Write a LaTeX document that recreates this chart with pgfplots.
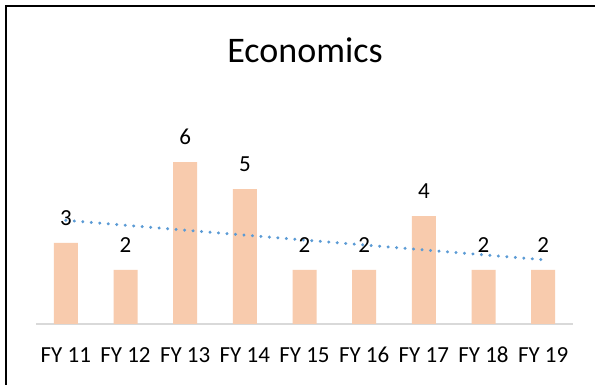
\documentclass[border=0pt]{standalone}
\usepackage{pgfplots}
\pgfplotsset{compat=1.18}
\usepackage{fontspec}
\setmainfont{Carlito}

\definecolor{barfill}{HTML}{F8CBAD}
\definecolor{trendblue}{HTML}{5B9BD5}
\definecolor{axisgray}{HTML}{D9D9D9}

\newcommand\lf{\fontsize{23}{27}\selectfont}

\begin{document}
\begin{tikzpicture}[x=1pt,y=1pt]
  % page area and chart frame (top and left edges)
  \useasboundingbox (0,0) rectangle (595,385);
  \fill[white] (0,0) rectangle (595,385);
  \draw[black, line width=2.2pt] (6,0) -- (6,379) -- (595,379);

  % chart title
  \node[anchor=base, font=\fontsize{36}{40}\selectfont] at (305,322.7) {Economics};

  \begin{axis}[
    at={(36pt,61pt)}, anchor=south west,
    scale only axis, width=537pt, height=189pt,
    xmin=-0.5, xmax=8.5, ymin=0, ymax=7,
    axis x line=bottom, axis y line=none,
    x axis line style={draw=axisgray, line width=1.5pt, -},
    xtick={0,...,8},
    xticklabels={\lf FY 11,\lf FY 12,\lf FY 13,\lf FY 14,\lf FY 15,
                 \lf FY 16,\lf FY 17,\lf FY 18,\lf FY 19},
    major tick length=0pt,
    xticklabel style={anchor=center, yshift=-31pt},
    clip=false,
  ]
    % yearly counts
    \addplot[ybar, bar width=24pt, fill=barfill, draw=none,
      nodes near coords={\lf\pgfmathprintnumber[assume math mode=true]{\pgfplotspointmeta}},
      every node near coord/.append style={anchor=center, yshift=25pt, text=black}]
      coordinates {(0,3) (1,2) (2,6) (3,5) (4,2) (5,2) (6,4) (7,2) (8,2)};
    % linear trend
    \addplot[sharp plot, no markers, trendblue, line width=3.3pt, line cap=round,
      dash pattern=on 0.01pt off 8.5pt]
      coordinates {(0,3.84) (8,2.38)};
  \end{axis}
\end{tikzpicture}
\end{document}
